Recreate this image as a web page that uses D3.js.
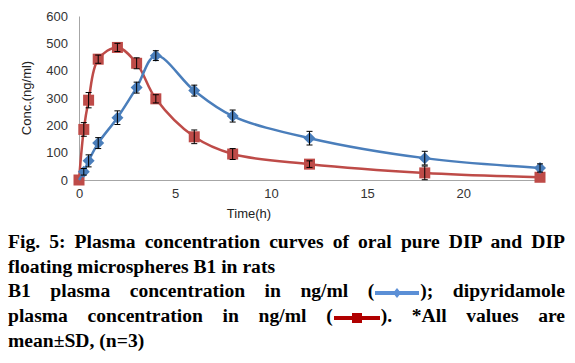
<!DOCTYPE html>
<html>
<head>
<meta charset="utf-8">
<script src="https://cdn.jsdelivr.net/npm/d3@7"></script>
<style>
  body { margin: 0; background: #fff; }
  #chart { position: absolute; left: 0; top: 0; }
  .cap { position: absolute; left: 8px; width: 557px; font: bold 19.6px "Liberation Serif", "Times New Roman", serif; color: #000; white-space: nowrap; }
  .just { text-align: justify; text-align-last: justify; white-space: normal; }
  .sym { display: inline-block; vertical-align: middle; }
</style>
</head>
<body>
<div id="chart"></div>
<div id="caption"></div>
<script>
// Time points (h)
const times = [0, 0.25, 0.5, 1, 2, 3, 4, 6, 8, 12, 18, 24];
// B1 floating microspheres (blue)
const b1Values = [0, 30, 70, 135, 228, 338, 455, 327, 234, 153, 80, 44];
const b1Sd = [0, 12, 22, 20, 25, 20, 18, 20, 22, 25, 25, 15];
// Pure dipyridamole (red)
const dipValues = [0, 185, 292, 442, 485, 427, 297, 158, 95, 58, 26, 10];
const dipSd = [0, 25, 28, 15, 15, 20, 15, 25, 20, 12, 25, 0];

const xTicks = [0, 5, 10, 15, 20];
const yTicks = [0, 100, 200, 300, 400, 500, 600];

const COLOR_B1 = '#4A7EBB';
const COLOR_DIP = '#BE4B48';
const LABEL_FONT = '"Liberation Sans", Arial, sans-serif';

const series = [
	{ name: 'dip', values: dipValues, sd: dipSd, color: COLOR_DIP, marker: 'square' },
	{ name: 'b1', values: b1Values, sd: b1Sd, color: COLOR_B1, marker: 'diamond' }
];

const width = 575;
const height = 230;
const margin = { left: 79, top: 16 };
const plotW = 461;
const plotH = 164;

const svg = d3.select('#chart').append('svg')
	.attr('width', width)
	.attr('height', height);

const x = d3.scaleLinear().domain([0, 24]).range([margin.left, margin.left + plotW]);
const y = d3.scaleLinear().domain([0, 600]).range([margin.top + plotH, margin.top]);

// Axes
const xAxis = svg.append('g')
	.attr('transform', `translate(0,${margin.top + plotH})`)
	.call(d3.axisBottom(x).tickValues(xTicks).tickSize(0).tickPadding(9));
const yAxis = svg.append('g')
	.attr('transform', `translate(${margin.left},0)`)
	.call(d3.axisLeft(y).tickValues(yTicks).tickSize(0).tickPadding(11));

[xAxis, yAxis].forEach((a) => {
	a.select('.domain').attr('stroke', '#a6a6a6').attr('stroke-width', 1);
	a.selectAll('text')
		.attr('font-family', LABEL_FONT)
		.attr('font-size', 13)
		.attr('fill', '#333');
});

// Axis titles
svg.append('text')
	.attr('x', 249).attr('y', 218)
	.attr('text-anchor', 'middle')
	.attr('font-family', LABEL_FONT)
	.attr('font-size', 13)
	.attr('fill', '#222')
	.text('Time(h)');

svg.append('text')
	.attr('transform', `translate(31,${margin.top + plotH / 2}) rotate(-90)`)
	.attr('text-anchor', 'middle')
	.attr('font-family', LABEL_FONT)
	.attr('font-size', 13)
	.attr('fill', '#222')
	.text('Conc.(ng/ml)');

const line = d3.line()
	.x((d) => x(d.t))
	.y((d) => y(d.v))
	.curve(d3.curveCatmullRom.alpha(0.5));

series.forEach((s) => {
	const pts = times.map((t, i) => ({ t, v: s.values[i], sd: s.sd[i] }));

	svg.append('path')
		.datum(pts)
		.attr('fill', 'none')
		.attr('stroke', s.color)
		.attr('stroke-width', 2.5)
		.attr('d', line);

	// Markers
	if (s.marker === 'square') {
		svg.selectAll(null).data(pts).enter().append('rect')
			.attr('x', (d) => x(d.t) - 5.5)
			.attr('y', (d) => y(d.v) - 5.5)
			.attr('width', 11).attr('height', 11)
			.attr('fill', s.color);
	} else {
		svg.selectAll(null).data(pts.slice(1)).enter().append('path')
			.attr('transform', (d) => `translate(${x(d.t)},${y(d.v)})`)
			.attr('d', 'M0,-6L6,0L0,6L-6,0Z')
			.attr('fill', s.color);
	}

	// Error bars
	const eb = svg.selectAll(null).data(pts.filter((d) => d.sd > 0)).enter().append('g')
		.attr('stroke', '#000').attr('stroke-width', 1);
	eb.append('line')
		.attr('x1', (d) => x(d.t)).attr('x2', (d) => x(d.t))
		.attr('y1', (d) => y(d.v - d.sd)).attr('y2', (d) => y(d.v + d.sd));
	eb.append('line')
		.attr('x1', (d) => x(d.t) - 3).attr('x2', (d) => x(d.t) + 3)
		.attr('y1', (d) => y(d.v + d.sd)).attr('y2', (d) => y(d.v + d.sd));
	eb.append('line')
		.attr('x1', (d) => x(d.t) - 3).attr('x2', (d) => x(d.t) + 3)
		.attr('y1', (d) => y(d.v - d.sd)).attr('y2', (d) => y(d.v - d.sd));
});

// Caption
const blueSym = '<svg class="sym" width="46" height="12"><line x1="1" y1="6" x2="45" y2="6" stroke="#5B8FD6" stroke-width="4"/><path d="M23,1L27,6L23,11L19,6Z" fill="#5B8FD6"/></svg>';
const redSym = '<svg class="sym" width="48" height="12"><line x1="1" y1="6" x2="47" y2="6" stroke="#B00000" stroke-width="4"/><rect x="19" y="1" width="10" height="10" fill="#B00000"/></svg>';

const captionLines = [
	{ top: 231, html: 'Fig. 5: Plasma concentration curves of oral pure DIP and DIP', just: true },
	{ top: 256, html: 'floating microspheres B1 in rats', just: false },
	{ top: 280, html: `B1 plasma concentration in ng/ml (${blueSym}); dipyridamole`, just: true },
	{ top: 305, html: `plasma concentration in ng/ml (${redSym}). *All values are`, just: true },
	{ top: 330, html: 'mean±SD, (n=3)', just: false }
];

d3.select('#caption').selectAll('div').data(captionLines).enter().append('div')
	.attr('class', (d) => 'cap' + (d.just ? ' just' : ''))
	.style('top', (d) => d.top + 'px')
	.html((d) => d.html);
</script>
</body>
</html>
